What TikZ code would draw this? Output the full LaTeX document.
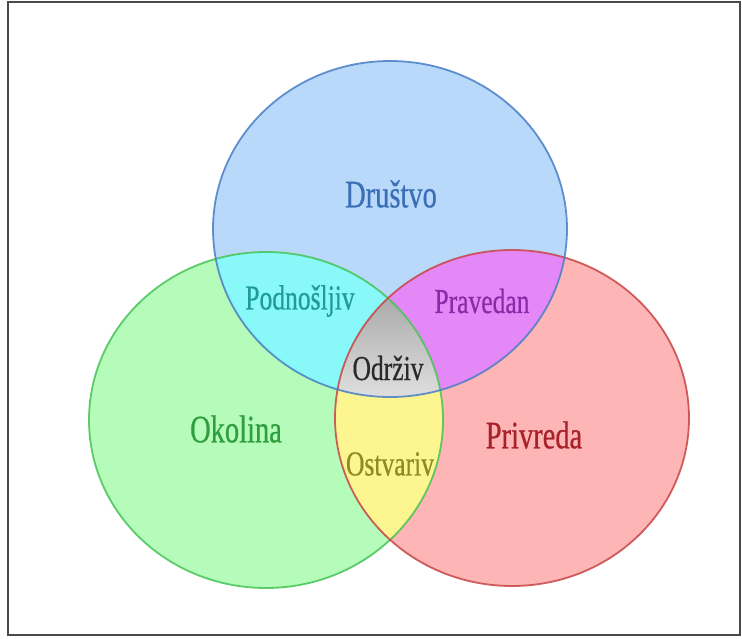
\documentclass[tikz,border=0pt]{standalone}
\usepackage{fontspec}
\setmainfont{Liberation Serif}[FakeBold=0.6]
\usepackage{graphicx}
\definecolor{framecol}{HTML}{4A4A4A}
\definecolor{bluefill}{HTML}{B9D9FB}
\definecolor{greenfill}{HTML}{B5FBB9}
\definecolor{redfill}{HTML}{FDB5B5}
\definecolor{cyanfill}{HTML}{88F8F8}
\definecolor{magentafill}{HTML}{E388F6}
\definecolor{yellowfill}{HTML}{FDF590}
\definecolor{greytop}{HTML}{ACACAC}
\definecolor{greybot}{HTML}{E0E0E0}
\definecolor{blueline}{HTML}{4A7EC6}
\definecolor{greenline}{HTML}{45C455}
\definecolor{redline}{HTML}{C84545}
\definecolor{tblue}{HTML}{3B6FB5}
\definecolor{tteal}{HTML}{1E9A9A}
\definecolor{tpurple}{HTML}{8A2AA8}
\definecolor{tdark}{HTML}{2A2A2A}
\definecolor{tgreen}{HTML}{2E9E3E}
\definecolor{tolive}{HTML}{8C8C20}
\definecolor{tred}{HTML}{A8202A}
\tikzset{
  bigtext/.style={font=\fontsize{39}{42}\selectfont, inner sep=0pt},
  smalltext/.style={font=\fontsize{35}{38}\selectfont, inner sep=0pt},
  setline/.style={line width=1.8pt, draw opacity=0.85}
}
\newcommand{\cond}[1]{\scalebox{0.73}[1]{#1}}
\begin{document}
\begin{tikzpicture}[x=1pt,y=-1pt]
\useasboundingbox (0,0) rectangle (742,638);
\fill[white] (0,0) rectangle (742,638);
\draw[framecol, line width=2pt] (8,2) rectangle (740,635);
% base fills
\fill[bluefill] (390,229) ellipse [x radius=177pt, y radius=168pt];
\fill[greenfill] (266,420) ellipse [x radius=177pt, y radius=168pt];
\fill[redfill] (512,418) ellipse [x radius=177pt, y radius=168pt];
% pairwise intersections
\begin{scope}
  \clip (390,229) ellipse [x radius=177pt, y radius=168pt];
  \fill[cyanfill] (266,420) ellipse [x radius=177pt, y radius=168pt];
\end{scope}
\begin{scope}
  \clip (390,229) ellipse [x radius=177pt, y radius=168pt];
  \fill[magentafill] (512,418) ellipse [x radius=177pt, y radius=168pt];
\end{scope}
\begin{scope}
  \clip (266,420) ellipse [x radius=177pt, y radius=168pt];
  \fill[yellowfill] (512,418) ellipse [x radius=177pt, y radius=168pt];
\end{scope}
% triple intersection
\begin{scope}
  \clip (390,229) ellipse [x radius=177pt, y radius=168pt];
  \clip (266,420) ellipse [x radius=177pt, y radius=168pt];
  \clip (512,418) ellipse [x radius=177pt, y radius=168pt];
  \shade[top color=greytop, bottom color=greybot] (330,300) rectangle (450,400);
\end{scope}
% outlines
\draw[setline, greenline] (266,420) ellipse [x radius=177pt, y radius=168pt];
\draw[setline, redline] (512,418) ellipse [x radius=177pt, y radius=168pt];
\draw[setline, blueline] (390,229) ellipse [x radius=177pt, y radius=168pt];
% labels
\node[bigtext, text=tblue] (drustvo) at (391,194) {\cond{Društvo}};
\node[bigtext, text=tgreen] (okolina) at (236,429) {\cond{Okolina}};
\node[bigtext, text=tred] (privreda) at (534,435) {\cond{Privreda}};
\node[smalltext, text=tteal] (podnosljiv) at (300,301) {\cond{Podnošljiv}};
\node[smalltext, text=tpurple] (pravedan) at (482,301) {\cond{Pravedan}};
\node[smalltext, text=tdark] (odrziv) at (388,368) {\cond{Održiv}};
\node[smalltext, text=tolive] (ostvariv) at (390,464) {\cond{Ostvariv}};
\end{tikzpicture}
\end{document}
